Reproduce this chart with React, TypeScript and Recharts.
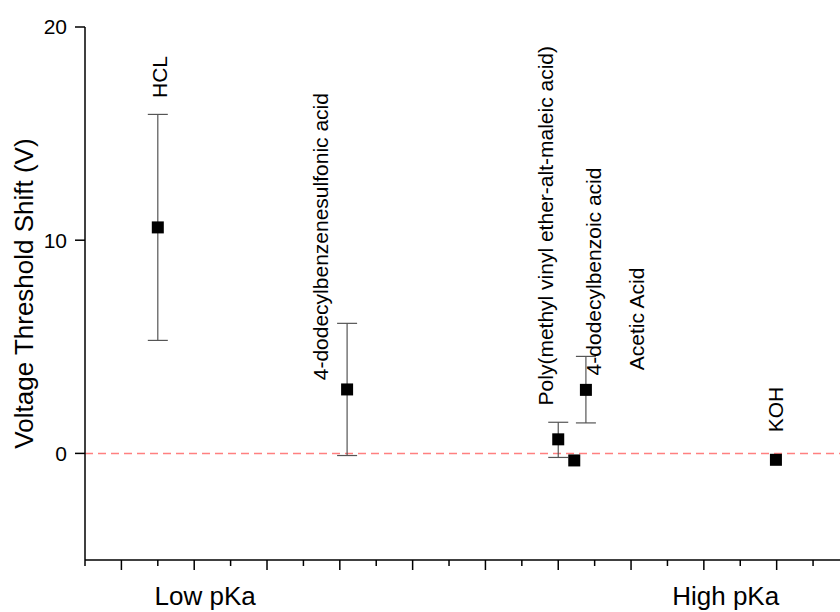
import React from "react";
import {
  ComposedChart,
  Scatter,
  XAxis,
  YAxis,
  ErrorBar,
  ReferenceLine,
} from "recharts";

const FONT = "'Liberation Sans', Arial, sans-serif";

// measured points with vertical error bars
const errPoints = [
  { x: 2.0, y: 10.6, err: [5.3, 5.3] },
  { x: 7.2, y: 3.0, err: [3.1, 3.1] },
  { x: 13.0, y: 0.66, err: [0.85, 0.8] },
  { x: 13.76, y: 2.98, err: [1.55, 1.57] },
];

// points drawn without error bars
const plainPoints = [
  { x: 13.44, y: -0.33 },
  { x: 18.98, y: -0.3 },
];

// compound names, rotated, placed by where the text starts
const compoundLabels = [
  { x: 2.06, y: 16.67, name: "HCL" },
  { x: 6.46, y: 3.43, name: "4-dodecylbenzenesulfonic acid" },
  { x: 12.64, y: 2.25, name: "Poly(methyl vinyl ether-alt-maleic acid)" },
  { x: 13.96, y: 3.66, name: "4-dodecylbenzoic acid" },
  { x: 15.16, y: 3.9, name: "Acetic Acid" },
  { x: 18.96, y: 0.99, name: "KOH" },
];

const xTicks = [0, 1, 2, 3, 4, 5, 6, 7, 8, 9, 10, 11, 12, 13, 14, 15, 16, 17, 18, 19, 20];
const xTextTicks = [3.3, 17.6];
const xTextLabels = ["Low pKa", "High pKa"];
const yTicks = [0, 10, 20];

const Square = (props: any) => {
  const { cx, cy } = props;
  return <rect x={cx - 6} y={cy - 6} width={12} height={12} fill="#000" />;
};

const RotatedLabel = (props: any) => {
  const { cx, cy, payload } = props;
  return (
    <text
      x={cx}
      y={cy}
      transform={`rotate(-90 ${cx} ${cy})`}
      textAnchor="start"
      dominantBaseline="central"
      fontSize={21}
      fontFamily={FONT}
      fill="#000"
    >
      {payload.name}
    </text>
  );
};

const XTick = (props: any) => {
  const { x, y, payload } = props;
  const v = payload.value;
  const idx = xTextTicks.indexOf(v);
  if (idx >= 0) {
    return (
      <text x={x} y={y + 45} textAnchor="middle" fontSize={26} fontFamily={FONT} fill="#000">
        {xTextLabels[idx]}
      </text>
    );
  }
  const len = v % 2 === 1 ? 10 : 6;
  return <line x1={x} x2={x} y1={y} y2={y + len} stroke="#000" strokeWidth={1.5} />;
};

export default function App() {
  return (
    <div style={{ position: "absolute", left: 0, top: 0, background: "#fff" }}>
      <ComposedChart
        width={840}
        height={612}
        margin={{ top: 27, right: 0, bottom: 0, left: 0 }}
      >
        <XAxis
          type="number"
          dataKey="x"
          domain={[0, 20.74]}
          ticks={[...xTicks, ...xTextTicks]}
          interval={0}
          tick={<XTick />}
          tickLine={false}
          tickSize={0}
          tickMargin={0}
          height={52}
          axisLine={{ stroke: "#000", strokeWidth: 1.5 }}
          allowDataOverflow
        />
        <YAxis
          type="number"
          dataKey="y"
          domain={[-5, 20]}
          ticks={yTicks}
          interval={0}
          width={85}
          tickSize={10}
          tickMargin={8}
          tick={{ fontSize: 21, fill: "#000", fontFamily: FONT }}
          tickLine={{ stroke: "#000", strokeWidth: 1.5 }}
          axisLine={{ stroke: "#000", strokeWidth: 1.5 }}
          label={{
            value: "Voltage Threshold Shift (V)",
            angle: -90,
            position: "insideLeft",
            offset: 24,
            style: { textAnchor: "middle", fontSize: 26, fill: "#000", fontFamily: FONT },
          }}
        />
        <ReferenceLine y={0} stroke="#ff8080" strokeDasharray="8 5" strokeWidth={1.5} />
        <Scatter data={errPoints} shape={<Square />} isAnimationActive={false}>
          <ErrorBar dataKey="err" direction="y" width={10} stroke="#555" strokeWidth={1.2} />
        </Scatter>
        <Scatter data={plainPoints} shape={<Square />} isAnimationActive={false} />
        <Scatter data={compoundLabels} shape={<RotatedLabel />} isAnimationActive={false} />
      </ComposedChart>
    </div>
  );
}
